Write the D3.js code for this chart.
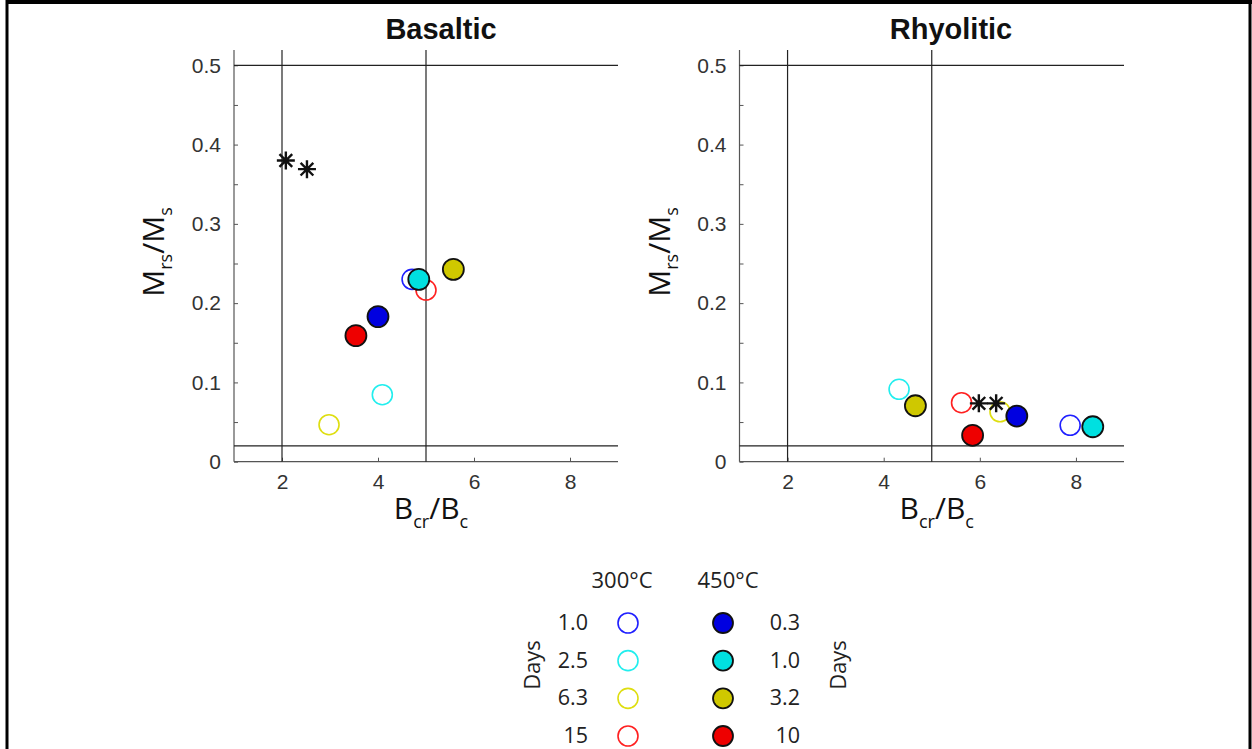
<!DOCTYPE html>
<html>
<head>
<meta charset="utf-8">
<script src="https://cdn.jsdelivr.net/npm/d3@7"></script>
<style>
  html, body { margin: 0; padding: 0; background: #fff; }
  svg { display: block; }
</style>
</head>
<body>
<svg id="chart" width="1252" height="749"></svg>
<script>
// ---------- data ----------
const panelTitles = ["Basaltic", "Rhyolitic"];
const xTickValues = [2, 4, 6, 8];
const yTickValues = [0, 0.05, 0.1, 0.15, 0.2, 0.25, 0.3, 0.35, 0.4, 0.45, 0.5];
const yTickLabels = ["0", "", "0.1", "", "0.2", "", "0.3", "", "0.4", "", "0.5"];
const refVertical = [2, 5];
const refHorizontal = [0.02, 0.5];

// series order: 300°C (open) 1.0, 2.5, 6.3, 15 days; 450°C (filled) 0.3, 1.0, 3.2, 10 days
const seriesTemp = ["300", "300", "300", "300", "450", "450", "450", "450"];
const seriesDays = ["1.0", "2.5", "6.3", "15", "0.3", "1.0", "3.2", "10"];
const seriesColors = ["#1f1fff", "#22eeee", "#dede10", "#ff2020", "#0000e0", "#00e0e0", "#cfc800", "#ee0000"];

const basalticBcrBc = [4.71, 4.09, 2.98, 5.00, 4.00, 4.85, 5.57, 3.54];
const basalticMrsMs = [0.230, 0.0845, 0.0467, 0.2165, 0.183, 0.230, 0.2426, 0.159];
const rhyoliticBcrBc = [7.88, 4.32, 6.42, 5.62, 6.77, 8.35, 4.66, 5.85];
const rhyoliticMrsMs = [0.0459, 0.0913, 0.063, 0.0744, 0.0576, 0.0441, 0.0706, 0.0333];

const basalticStarX = [2.08, 2.52];
const basalticStarY = [0.380, 0.369];
const rhyoliticStarX = [5.98, 6.34];
const rhyoliticStarY = [0.0736, 0.0736];

// ---------- layout ----------
const svg = d3.select("#chart");
const panels = [
  { left: 234, right: 618, titleX: 441, bcr: basalticBcrBc, mrs: basalticMrsMs, sx: basalticStarX, sy: basalticStarY },
  { left: 739.5, right: 1124, titleX: 951, bcr: rhyoliticBcrBc, mrs: rhyoliticMrsMs, sx: rhyoliticStarX, sy: rhyoliticStarY }
];
const yTop = 50, yBottom = 461.7;
const axisColor = "#555";
const labelFont = "'Open Sans', 'DejaVu Sans', sans-serif";
const tickFont = "'Liberation Sans', Arial, sans-serif";

// frame
svg.append("line").attr("x1", 7).attr("x2", 1252).attr("y1", 2).attr("y2", 2).attr("stroke", "#000").attr("stroke-width", 4);
svg.append("line").attr("x1", 7).attr("x2", 7).attr("y1", 0).attr("y2", 749).attr("stroke", "#000").attr("stroke-width", 3);
svg.append("line").attr("x1", 1250).attr("x2", 1250).attr("y1", 0).attr("y2", 749).attr("stroke", "#000").attr("stroke-width", 3);

// custom 8-armed asterisk symbol
const asterisk = {
  draw(ctx, size) {
    const r = Math.sqrt(size) / 2;
    for (let i = 0; i < 4; i++) {
      const a = i * Math.PI / 4;
      ctx.moveTo(-r * Math.cos(a), -r * Math.sin(a));
      ctx.lineTo(r * Math.cos(a), r * Math.sin(a));
    }
  }
};

panels.forEach((p, pi) => {
  const x = d3.scaleLinear().domain([1, 9]).range([p.left, p.right]);
  const y = d3.scaleLinear().domain([0, 0.5]).range([yBottom, 65.3]);
  const g = svg.append("g");

  // title
  g.append("text").attr("x", p.titleX).attr("y", 39).attr("text-anchor", "middle")
    .attr("font-family", tickFont).attr("font-weight", "bold").attr("font-size", 29)
    .attr("fill", "#111").text(panelTitles[pi]);

  // y axis (ticks inside)
  const yAxis = d3.axisLeft(y).tickValues(yTickValues).tickSize(-4).tickPadding(13)
    .tickFormat((d, i) => yTickLabels[i]);
  const ya = g.append("g").attr("transform", `translate(${p.left},0)`).call(yAxis);
  ya.select(".domain").remove();
  ya.selectAll(".tick line").attr("stroke", axisColor);
  ya.selectAll(".tick text").attr("font-family", tickFont).attr("font-size", 21).attr("fill", "#333");
  g.append("line").attr("x1", p.left).attr("x2", p.left).attr("y1", yTop).attr("y2", yBottom)
    .attr("stroke", axisColor).attr("stroke-width", 1.2);

  // x axis (ticks inside)
  const xAxis = d3.axisBottom(x).tickValues(xTickValues).tickSize(-4).tickPadding(12).tickFormat(d3.format("d"));
  const xa = g.append("g").attr("transform", `translate(0,${yBottom})`).call(xAxis);
  xa.select(".domain").remove();
  xa.selectAll(".tick line").attr("stroke", axisColor);
  xa.selectAll(".tick text").attr("font-family", tickFont).attr("font-size", 21).attr("fill", "#333");
  g.append("line").attr("x1", p.left).attr("x2", p.right).attr("y1", yBottom).attr("y2", yBottom)
    .attr("stroke", axisColor).attr("stroke-width", 1.2);

  // reference lines
  refVertical.forEach(v => {
    g.append("line").attr("x1", x(v)).attr("x2", x(v)).attr("y1", yTop).attr("y2", yBottom)
      .attr("stroke", "#222").attr("stroke-width", 1.2);
  });
  refHorizontal.forEach(v => {
    g.append("line").attr("x1", p.left).attr("x2", p.right).attr("y1", y(v)).attr("y2", y(v))
      .attr("stroke", "#222").attr("stroke-width", 1.2);
  });

  // axis labels
  const yl = g.append("text").attr("transform", `translate(${p.left - 70},252) rotate(-90)`)
    .attr("text-anchor", "middle").attr("font-family", labelFont).attr("font-size", 30).attr("fill", "#111");
  yl.append("tspan").text("M");
  yl.append("tspan").attr("font-size", 18).attr("dy", 8).text("rs");
  yl.append("tspan").attr("dy", -8).text("/M");
  yl.append("tspan").attr("font-size", 18).attr("dy", 8).text("s");

  const xl = g.append("text").attr("x", (p.left + p.right) / 2 + 5).attr("y", 519)
    .attr("text-anchor", "middle").attr("font-family", labelFont).attr("font-size", 30).attr("fill", "#111");
  xl.append("tspan").text("B");
  xl.append("tspan").attr("font-size", 18).attr("dy", 9).text("cr");
  xl.append("tspan").attr("dy", -9).text("/B");
  xl.append("tspan").attr("font-size", 18).attr("dy", 9).text("c");

  // points: open first, then filled
  const idx = d3.range(seriesColors.length);
  g.selectAll("circle.open").data(idx.filter(i => seriesTemp[i] === "300")).join("circle")
    .attr("class", "open").attr("cx", i => x(p.bcr[i])).attr("cy", i => y(p.mrs[i])).attr("r", 10)
    .attr("fill", "none").attr("stroke", i => seriesColors[i]).attr("stroke-width", 1.6);
  g.selectAll("circle.filled").data(idx.filter(i => seriesTemp[i] === "450")).join("circle")
    .attr("class", "filled").attr("cx", i => x(p.bcr[i])).attr("cy", i => y(p.mrs[i])).attr("r", 10.5)
    .attr("fill", i => seriesColors[i]).attr("stroke", "#111").attr("stroke-width", 1.8);

  // stars
  g.selectAll("path.star").data(d3.range(p.sx.length)).join("path")
    .attr("class", "star").attr("transform", i => `translate(${x(p.sx[i])},${y(p.sy[i])})`)
    .attr("d", d3.symbol().type(asterisk).size(324)).attr("stroke", "#111").attr("stroke-width", 2.4).attr("fill", "none");
});

// ---------- legend ----------
const lg = svg.append("g").attr("font-family", labelFont).attr("fill", "#222");
lg.append("text").attr("x", 622).attr("y", 588).attr("text-anchor", "middle").attr("font-size", 22).text("300°C");
lg.append("text").attr("x", 728).attr("y", 588).attr("text-anchor", "middle").attr("font-size", 22).text("450°C");
const rowY = d3.scalePoint().domain(d3.range(4)).range([623, 736]);
d3.range(4).forEach(r => {
  const iOpen = r, iFill = r + 4;
  lg.append("text").attr("x", 588).attr("y", rowY(r) + 7).attr("text-anchor", "end").attr("font-size", 21.5).text(seriesDays[iOpen]);
  lg.append("circle").attr("cx", 628).attr("cy", rowY(r)).attr("r", 10)
    .attr("fill", "none").attr("stroke", seriesColors[iOpen]).attr("stroke-width", 1.6);
  lg.append("circle").attr("cx", 723).attr("cy", rowY(r)).attr("r", 10)
    .attr("fill", seriesColors[iFill]).attr("stroke", "#111").attr("stroke-width", 1.8);
  lg.append("text").attr("x", 800).attr("y", rowY(r) + 7).attr("text-anchor", "end").attr("font-size", 21.5).text(seriesDays[iFill]);
});
lg.append("text").attr("transform", "translate(540,665) rotate(-90)").attr("text-anchor", "middle").attr("font-size", 22).text("Days");
lg.append("text").attr("transform", "translate(846,665) rotate(-90)").attr("text-anchor", "middle").attr("font-size", 22).text("Days");
</script>
</body>
</html>
